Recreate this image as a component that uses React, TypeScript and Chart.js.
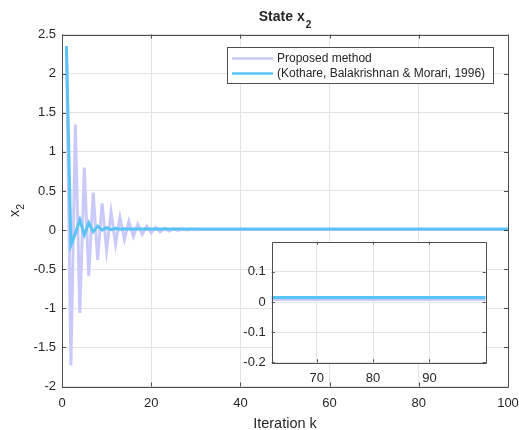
import React, { useEffect, useRef } from 'react';
import { Chart, registerables } from 'chart.js';

Chart.register(...registerables);

const FONT = 'Arial, "Liberation Sans", Helvetica, sans-serif';
const TEXT = '#262626';
const GRID = '#e3e3e3';
const AXIS = '#4d4d4d';

const titleMain = 'State x';
const titleSub = '2';
const yTitleMain = 'x';
const yTitleSub = '2';
const xTitle = 'Iteration k';
const seriesNames = ['Proposed method', '(Kothare, Balakrishnan & Morari, 1996)'];
const seriesColors = ['#c9c9fa', '#5ac3f5'];

const iterations = Array.from({ length: 100 }, (_, i) => i + 1);

const proposed = [
  2.35, -1.73, 1.35, -1.06, 0.8, -0.59, 0.48, -0.38, 0.34, -0.26,
  0.23, -0.18, 0.16, -0.12, 0.11, -0.08, 0.075, -0.055, 0.05, -0.035,
  0.034, -0.022, 0.022, -0.013, 0.016, -0.006, 0.012, 0.0, 0.01, 0.004,
  0.008, 0.008, 0.008, 0.008, 0.008, 0.008, 0.008, 0.008, 0.008, 0.008,
  0.008, 0.008, 0.008, 0.008, 0.008, 0.008, 0.008, 0.008, 0.008, 0.008,
  0.008, 0.008, 0.008, 0.008, 0.008, 0.008, 0.008, 0.008, 0.008, 0.008,
  0.008, 0.008, 0.008, 0.008, 0.008, 0.008, 0.008, 0.008, 0.008, 0.008,
  0.008, 0.008, 0.008, 0.008, 0.008, 0.008, 0.008, 0.008, 0.008, 0.008,
  0.008, 0.008, 0.008, 0.008, 0.008, 0.008, 0.008, 0.008, 0.008, 0.008,
  0.008, 0.008, 0.008, 0.008, 0.008, 0.008, 0.008, 0.008, 0.008, 0.008,
];

const kothare = [
  2.35, -0.19, -0.04, 0.13, -0.06, 0.09, -0.02, 0.05, 0.0, 0.03,
  0.005, 0.022, 0.01, 0.018, 0.013, 0.015, 0.015, 0.015, 0.015, 0.015,
  0.015, 0.015, 0.015, 0.015, 0.015, 0.015, 0.015, 0.015, 0.015, 0.015,
  0.015, 0.015, 0.015, 0.015, 0.015, 0.015, 0.015, 0.015, 0.015, 0.015,
  0.015, 0.015, 0.015, 0.015, 0.015, 0.015, 0.015, 0.015, 0.015, 0.015,
  0.015, 0.015, 0.015, 0.015, 0.015, 0.015, 0.015, 0.015, 0.015, 0.015,
  0.015, 0.015, 0.015, 0.015, 0.015, 0.015, 0.015, 0.015, 0.015, 0.015,
  0.015, 0.015, 0.015, 0.015, 0.015, 0.015, 0.015, 0.015, 0.015, 0.015,
  0.015, 0.015, 0.015, 0.015, 0.015, 0.015, 0.015, 0.015, 0.015, 0.015,
  0.015, 0.015, 0.015, 0.015, 0.015, 0.015, 0.015, 0.015, 0.015, 0.015,
];

const mainXTicks = [0, 20, 40, 60, 80, 100];
const mainYTicks = [-2, -1.5, -1, -0.5, 0, 0.5, 1, 1.5, 2, 2.5];
const insetXTicks = [70, 80, 90];
const insetYTicks = [-0.2, -0.1, 0, 0.1];
const insetXRange = [62, 100];
const insetYRange = [-0.2, 0.2];

function makeDatasets() {
  return [
    {
      label: seriesNames[0],
      data: proposed.map((y, i) => ({ x: iterations[i], y })),
      borderColor: seriesColors[0],
      borderWidth: 3,
      pointRadius: 0,
      tension: 0,
      order: 1,
    },
    {
      label: seriesNames[1],
      data: kothare.map((y, i) => ({ x: iterations[i], y })),
      borderColor: seriesColors[1],
      borderWidth: 3,
      pointRadius: 0,
      tension: 0,
      order: 0,
    },
  ];
}

function drawBoxAndTicks(chart: any, tickLen: number) {
  const { ctx, chartArea } = chart;
  const { left, right, top, bottom } = chartArea;
  ctx.save();
  ctx.strokeStyle = AXIS;
  ctx.lineWidth = 1;
  ctx.beginPath();
  ctx.rect(Math.round(left) + 0.5, Math.round(top) + 0.5, Math.round(right - left), Math.round(bottom - top));
  ctx.stroke();
  const xs = chart.scales.x;
  const ys = chart.scales.y;
  ctx.beginPath();
  xs.ticks.forEach((t: any) => {
    const px = Math.round(xs.getPixelForValue(t.value)) + 0.5;
    ctx.moveTo(px, bottom);
    ctx.lineTo(px, bottom - tickLen);
    ctx.moveTo(px, top);
    ctx.lineTo(px, top + tickLen);
  });
  ys.ticks.forEach((t: any) => {
    const py = Math.round(ys.getPixelForValue(t.value)) + 0.5;
    ctx.moveTo(left, py);
    ctx.lineTo(left + tickLen, py);
    ctx.moveTo(right, py);
    ctx.lineTo(right - tickLen, py);
  });
  ctx.stroke();
  ctx.restore();
}

const mainDecor = {
  id: 'mainDecor',
  afterDraw(chart: any) {
    const { ctx, chartArea } = chart;
    drawBoxAndTicks(chart, 4);
    ctx.save();
    ctx.fillStyle = TEXT;
    // Title
    const cx = (chartArea.left + chartArea.right) / 2;
    ctx.font = `bold 14px ${FONT}`;
    const w1 = ctx.measureText(titleMain).width;
    ctx.font = `bold 10px ${FONT}`;
    const w2 = ctx.measureText(titleSub).width;
    const sx = cx - (w1 + w2 + 1) / 2;
    ctx.textBaseline = 'alphabetic';
    ctx.textAlign = 'left';
    ctx.font = `bold 14px ${FONT}`;
    ctx.fillText(titleMain, sx, 21);
    ctx.font = `bold 10px ${FONT}`;
    ctx.fillText(titleSub, sx + w1 + 1, 28);

    // x title
    ctx.font = `14.5px ${FONT}`;
    ctx.textAlign = 'center';
    ctx.fillText(xTitle, cx, 427.5);

    // y title
    const cy = (chartArea.top + chartArea.bottom) / 2;
    ctx.save();
    ctx.translate(19, cy);
    ctx.rotate(-Math.PI / 2);
    ctx.textAlign = 'left';
    ctx.font = `14.5px ${FONT}`;
    const yw1 = ctx.measureText(yTitleMain).width;
    ctx.font = `10.5px ${FONT}`;
    const yw2 = ctx.measureText(yTitleSub).width;
    const ysx = -(yw1 + yw2) / 2;
    ctx.font = `14.5px ${FONT}`;
    ctx.fillText(yTitleMain, ysx, 0);
    ctx.font = `10.5px ${FONT}`;
    ctx.fillText(yTitleSub, ysx + yw1, 5);
    ctx.restore();

    // Legend
    const lx = 227.5, ly = 47.5, lw = 266, lh = 36;
    ctx.fillStyle = '#ffffff';
    ctx.fillRect(lx, ly, lw, lh);
    ctx.strokeStyle = AXIS;
    ctx.lineWidth = 1;
    ctx.strokeRect(lx, ly, lw, lh);
    const rows = [58.5, 73.5];
    rows.forEach((ry, i) => {
      ctx.strokeStyle = seriesColors[i];
      ctx.lineWidth = 2.5;
      ctx.beginPath();
      ctx.moveTo(232, ry);
      ctx.lineTo(273, ry);
      ctx.stroke();
      ctx.fillStyle = TEXT;
      ctx.font = `12px ${FONT}`;
      ctx.textAlign = 'left';
      ctx.textBaseline = 'middle';
      ctx.fillText(seriesNames[i], 277, ry + 0.5);
    });
    ctx.restore();
  },
};

const insetDecor = {
  id: 'insetDecor',
  beforeDraw(chart: any) {
    const { ctx, chartArea } = chart;
    ctx.save();
    ctx.fillStyle = '#ffffff';
    ctx.fillRect(chartArea.left, chartArea.top, chartArea.right - chartArea.left, chartArea.bottom - chartArea.top);
    ctx.restore();
  },
  afterDraw(chart: any) {
    drawBoxAndTicks(chart, 3);
  },
};

const fmt = (v: any) => String(Math.round(Number(v) * 100) / 100);

export default function App() {
  const mainRef = useRef<HTMLCanvasElement>(null);
  const insetRef = useRef<HTMLCanvasElement>(null);

  useEffect(() => {
    Chart.defaults.font.family = FONT;
    Chart.defaults.color = TEXT;

    const main = new Chart(mainRef.current as HTMLCanvasElement, {
      type: 'line',
      data: { datasets: makeDatasets() as any },
      options: {
        animation: false,
        responsive: false,
        layout: { padding: { left: 0, right: 11, top: 34.5, bottom: 0 } },
        plugins: { legend: { display: false }, title: { display: false }, tooltip: { enabled: false } },
        scales: {
          x: {
            type: 'linear',
            min: 0,
            max: 100,
            afterBuildTicks: (s: any) => { s.ticks = mainXTicks.map((v) => ({ value: v })); },
            afterFit: (s: any) => { s.height = 43.5; s.paddingLeft = 0; s.paddingRight = 0; },
            grid: { color: GRID, drawTicks: false },
            border: { display: false },
            ticks: { font: { size: 13 }, padding: 9, maxRotation: 0, callback: fmt },
          },
          y: {
            type: 'linear',
            min: -2,
            max: 2.5,
            afterBuildTicks: (s: any) => { s.ticks = mainYTicks.map((v) => ({ value: v })); },
            afterFit: (s: any) => { s.width = 62; s.paddingTop = 0; s.paddingBottom = 0; },
            grid: { color: GRID, drawTicks: false },
            border: { display: false },
            ticks: { font: { size: 13 }, padding: 6, callback: fmt },
          },
        },
      } as any,
      plugins: [mainDecor],
    });

    const insetW = 255, insetH = 155, insetL = 236, insetT = 235;
    const inset = new Chart(insetRef.current as HTMLCanvasElement, {
      type: 'line',
      data: { datasets: makeDatasets() as any },
      options: {
        animation: false,
        responsive: false,
        layout: { padding: { left: 0, right: insetW - (485.7 - insetL), top: 241.7 - insetT, bottom: 0 } },
        plugins: { legend: { display: false }, title: { display: false }, tooltip: { enabled: false } },
        scales: {
          x: {
            type: 'linear',
            min: insetXRange[0],
            max: insetXRange[1],
            afterBuildTicks: (s: any) => { s.ticks = insetXTicks.map((v) => ({ value: v })); },
            afterFit: (s: any) => { s.height = insetH - (362.3 - insetT); s.paddingLeft = 0; s.paddingRight = 0; },
            grid: { color: GRID, drawTicks: false },
            border: { display: false },
            ticks: { font: { size: 13 }, padding: 8, maxRotation: 0, callback: fmt },
          },
          y: {
            type: 'linear',
            min: insetYRange[0],
            max: insetYRange[1],
            afterBuildTicks: (s: any) => { s.ticks = insetYTicks.map((v) => ({ value: v })); },
            afterFit: (s: any) => { s.width = 271.7 - insetL; s.paddingTop = 0; s.paddingBottom = 0; },
            grid: { color: GRID, drawTicks: false },
            border: { display: false },
            ticks: { font: { size: 13 }, padding: 6, callback: fmt },
          },
        },
      } as any,
      plugins: [insetDecor],
    });

    return () => {
      main.destroy();
      inset.destroy();
    };
  }, []);

  return (
    <div style={{ position: 'fixed', left: 0, top: 0, width: 519, height: 430, background: '#fff' }}>
      <canvas ref={mainRef} width={519} height={430} style={{ position: 'absolute', left: 0, top: 0, width: 519, height: 430 }} />
      <canvas ref={insetRef} width={255} height={155} style={{ position: 'absolute', left: 236, top: 235, width: 255, height: 155 }} />
    </div>
  );
}
